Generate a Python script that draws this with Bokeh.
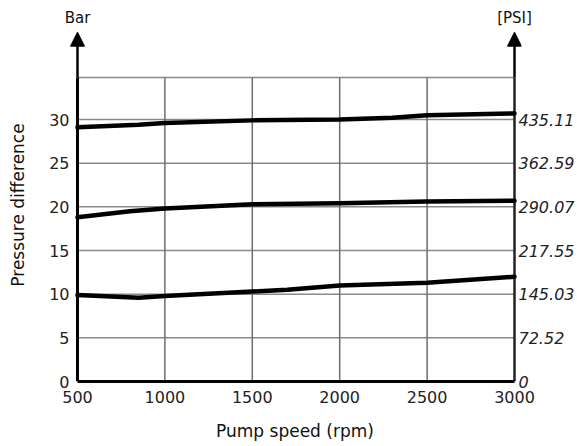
from bokeh.plotting import figure
from bokeh.models import (LinearAxis, FixedTicker, Range1d, Arrow, NormalHead)
from bokeh.embed import file_html
from bokeh.resources import INLINE

# Data
speed_top = [500, 850, 1000, 1500, 2000, 2300, 2500, 3000]
diff_top = [29.1, 29.4, 29.6, 29.9, 30.0, 30.2, 30.5, 30.7]
speed_mid = [500, 800, 1000, 1500, 2000, 2500, 3000]
diff_mid = [18.8, 19.5, 19.8, 20.3, 20.4, 20.6, 20.7]
speed_low = [500, 850, 1000, 1500, 1700, 2000, 2500, 3000]
diff_low = [9.9, 9.6, 9.8, 10.3, 10.5, 11.0, 11.3, 12.0]

bar_ticks = [0, 5, 10, 15, 20, 25, 30]
psi_labels = ["0", "72.52", "145.03", "217.55", "290.07", "362.59", "435.11"]
x_ticks = [500, 1000, 1500, 2000, 2500, 3000]
unit_labels = ["Bar", "[PSI]"]

FONT = "DejaVu Sans"
Y_TOP = 34.8
X0, X1 = 500, 3000

p = figure(width=577, height=446, output_backend="svg", toolbar_location=None,
           x_range=Range1d(448.6, 3040.0), y_range=Range1d(0, 40.42),
           min_border_left=68, min_border_right=56, min_border_top=28, min_border_bottom=65,
           x_axis_label="Pump speed (rpm)", y_axis_label="Pressure difference")

p.outline_line_color = None
p.xgrid.visible = False
p.ygrid.visible = False

# grid lines
h_vals = bar_ticks[1:] + [Y_TOP]
p.segment(x0=[X0] * len(h_vals), x1=[X1] * len(h_vals), y0=h_vals, y1=h_vals,
          line_color="#8a8a8a", line_width=1.5)
v_vals = x_ticks[1:-1]
p.segment(x0=v_vals, x1=v_vals, y0=[0] * len(v_vals), y1=[Y_TOP] * len(v_vals),
          line_color="#6e6e6e", line_width=1.5)

# axis lines drawn at data positions
p.segment(x0=[X0], x1=[X0], y0=[0], y1=[Y_TOP], line_color="black", line_width=3)
p.segment(x0=[X1], x1=[X1], y0=[0], y1=[Y_TOP], line_color="#222222", line_width=2.5)

def style(ax, size="16px", italic=False):
    ax.major_tick_line_color = None
    ax.minor_tick_line_color = None
    ax.major_tick_out = 0
    ax.major_tick_in = 0
    ax.minor_tick_out = 0
    ax.major_label_text_font = FONT
    ax.major_label_text_font_size = size
    ax.major_label_text_color = "#222222"
    ax.major_label_text_font_style = "italic" if italic else "normal"
    ax.axis_label_text_font = FONT
    ax.axis_label_text_font_size = "17px"
    ax.axis_label_text_font_style = "normal"
    ax.axis_label_text_color = "#111111"

style(p.xaxis[0])
style(p.yaxis[0])

p.xaxis[0].axis_line_color = "black"
p.xaxis[0].axis_line_width = 3
p.xaxis[0].ticker = FixedTicker(ticks=x_ticks)
p.xaxis[0].bounds = (X0, X1)
p.xaxis[0].major_label_standoff = 9
p.xaxis[0].axis_label_standoff = 15

p.yaxis[0].axis_line_color = None
p.yaxis[0].ticker = FixedTicker(ticks=bar_ticks)
p.yaxis[0].major_label_standoff = -1
p.yaxis[0].axis_label_standoff = 18

right = LinearAxis(ticker=FixedTicker(ticks=bar_ticks),
                   major_label_overrides={t: s for t, s in zip(bar_ticks, psi_labels)})
style(right, italic=True)
right.axis_line_color = None
right.major_label_standoff = -3
p.add_layout(right, "right")

top = LinearAxis(ticker=FixedTicker(ticks=[X0, X1]),
                 major_label_overrides={X0: unit_labels[0], X1: unit_labels[1]})
style(top, size="15px")
top.axis_line_color = None
top.major_label_text_color = "#111111"
top.major_label_standoff = 2
p.add_layout(top, "above")

for xs, ys in ((speed_top, diff_top), (speed_mid, diff_mid), (speed_low, diff_low)):
    p.line(xs, ys, line_color="black", line_width=4.5, line_join="round", line_cap="round")

# Arrows on axes
for xa in (X0, X1):
    p.add_layout(Arrow(x_start=xa, y_start=Y_TOP, x_end=xa, y_end=40.0,
                       line_color="black", line_width=2.5,
                       end=NormalHead(size=14, fill_color="black", line_color="black")))

open("out.html", "w").write(file_html(p, INLINE))
